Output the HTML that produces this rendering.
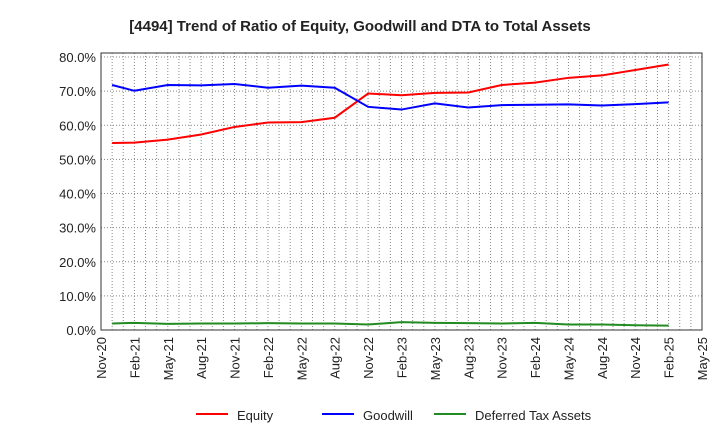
<!DOCTYPE html>
<html><head><meta charset="utf-8"><style>body{margin:0;background:#fff}svg{font-family:"Liberation Sans",sans-serif}</style></head>
<body>
<svg id="c" width="720" height="440" xmlns="http://www.w3.org/2000/svg">
<text x="360" y="31" text-anchor="middle" font-size="15" font-weight="bold" fill="#222">[4494]  Trend of Ratio of Equity, Goodwill and DTA to Total Assets</text>
</svg>
<script>
const monthIdx=[1,3,6,9,12,15,18,21,24,27,30,33,36,39,42,45,48,51];
const equity=[54.8,54.9,55.8,57.3,59.5,60.8,60.9,62.2,69.3,68.8,69.5,69.6,71.8,72.5,73.9,74.6,76.2,77.8];
const goodwill=[71.8,70.1,71.8,71.7,72.1,71.0,71.6,71.0,65.4,64.6,66.4,65.2,65.9,66.0,66.1,65.8,66.2,66.7];
const dta=[1.9,2.1,1.8,1.9,1.9,2.0,1.9,1.9,1.6,2.3,2.1,2.0,1.9,2.1,1.6,1.6,1.4,1.3];
const xLabels=["Nov-20","Feb-21","May-21","Aug-21","Nov-21","Feb-22","May-22","Aug-22","Nov-22","Feb-23","May-23","Aug-23","Nov-23","Feb-24","May-24","Aug-24","Nov-24","Feb-25","May-25"];
const yTicks=[0,10,20,30,40,50,60,70,80];
const NS="http://www.w3.org/2000/svg",svg=document.getElementById('c');
const L=101,R=702,T=53,B=330,months=54;
const x=m=>L+(R-L)*m/months, y=v=>B-(B-57)*v/80;
function mk(t,a,p){const e=document.createElementNS(NS,t);for(const k in a)e.setAttribute(k,a[k]);(p||svg).appendChild(e);return e;}
for(let m=1;m<months;m++){const g=mk('line',{x1:x(m),x2:x(m),y1:T,y2:B,stroke:'#888','stroke-dasharray':'1,2'});

}
yTicks.forEach(v=>{if(v>0){const g=mk('line',{x1:L,x2:R,y1:y(v),y2:y(v),stroke:'#888','stroke-dasharray':'1,2'});

}
const t=mk('text',{x:L-5,y:y(v)+5,'text-anchor':'end','font-size':13,fill:'#222'});t.textContent=v.toFixed(1)+'%';

});
const box=mk('rect',{x:L,y:T,width:R-L,height:B-T,fill:'none',stroke:'#333'});


xLabels.forEach((s,i)=>{const xx=x(i*3);const t=mk('text',{transform:`translate(${xx+5},${B+7}) rotate(-90)`,'text-anchor':'end','font-size':13,fill:'#222'});t.textContent=s;

});
function series(vals,col,name){const p=mk('polyline',{points:vals.map((v,i)=>x(monthIdx[i])+','+y(v)).join(' '),fill:'none',stroke:col,'stroke-width':2});

}
series(equity,'#ff0000','equity-line');series(goodwill,'#0000ff','goodwill-line');series(dta,'#228b22','dta-line');
[['Equity','#ff0000',196],['Goodwill','#0000ff',322],['Deferred Tax Assets','#228b22',434]].forEach(([n,c,lx])=>{
const g=mk('g',{});

mk('line',{x1:lx,x2:lx+32,y1:414,y2:414,stroke:c,'stroke-width':2},g);
const t=mk('text',{x:lx+41,y:420,'font-size':13,fill:'#222'},g);t.textContent=n;});
</script>
</body></html>
